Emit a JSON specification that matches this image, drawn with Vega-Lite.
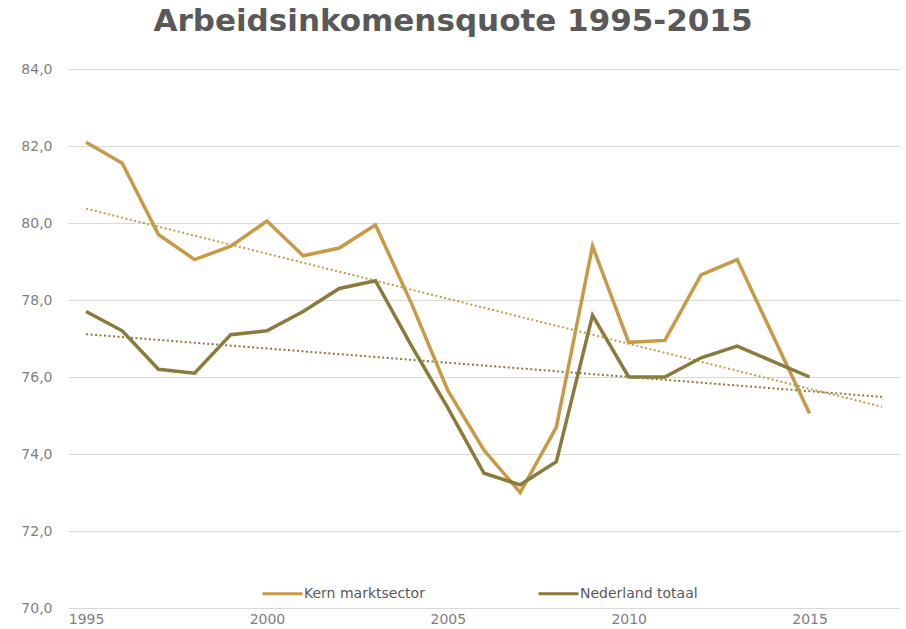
{
  "$schema": "https://vega.github.io/schema/vega-lite/v6.json",
  "width": 832,
  "height": 539,
  "autosize": {"type": "none"},
  "padding": {"left": 68, "top": 69, "right": 6, "bottom": 21},
  "title": {
    "text": "Arbeidsinkomensquote 1995-2015",
    "font": "DejaVu Sans",
    "fontSize": 31,
    "fontWeight": "bold",
    "color": "#595959",
    "anchor": "middle",
    "dx": -31,
    "offset": 24
  },
  "data": {
    "values": [
      {"jaar": 1995, "serie": "Kern marktsector", "waarde": 82.1},
      {"jaar": 1996, "serie": "Kern marktsector", "waarde": 81.55},
      {"jaar": 1997, "serie": "Kern marktsector", "waarde": 79.7},
      {"jaar": 1998, "serie": "Kern marktsector", "waarde": 79.05},
      {"jaar": 1999, "serie": "Kern marktsector", "waarde": 79.4},
      {"jaar": 2000, "serie": "Kern marktsector", "waarde": 80.05},
      {"jaar": 2001, "serie": "Kern marktsector", "waarde": 79.15},
      {"jaar": 2002, "serie": "Kern marktsector", "waarde": 79.35},
      {"jaar": 2003, "serie": "Kern marktsector", "waarde": 79.95},
      {"jaar": 2004, "serie": "Kern marktsector", "waarde": 77.9},
      {"jaar": 2005, "serie": "Kern marktsector", "waarde": 75.65},
      {"jaar": 2006, "serie": "Kern marktsector", "waarde": 74.1},
      {"jaar": 2007, "serie": "Kern marktsector", "waarde": 73.0},
      {"jaar": 2008, "serie": "Kern marktsector", "waarde": 74.7},
      {"jaar": 2009, "serie": "Kern marktsector", "waarde": 79.4},
      {"jaar": 2010, "serie": "Kern marktsector", "waarde": 76.9},
      {"jaar": 2011, "serie": "Kern marktsector", "waarde": 76.95},
      {"jaar": 2012, "serie": "Kern marktsector", "waarde": 78.65},
      {"jaar": 2013, "serie": "Kern marktsector", "waarde": 79.05},
      {"jaar": 2014, "serie": "Kern marktsector", "waarde": 77.05},
      {"jaar": 2015, "serie": "Kern marktsector", "waarde": 75.05},
      {"jaar": 1995, "serie": "Nederland totaal", "waarde": 77.7},
      {"jaar": 1996, "serie": "Nederland totaal", "waarde": 77.2},
      {"jaar": 1997, "serie": "Nederland totaal", "waarde": 76.2},
      {"jaar": 1998, "serie": "Nederland totaal", "waarde": 76.1},
      {"jaar": 1999, "serie": "Nederland totaal", "waarde": 77.1},
      {"jaar": 2000, "serie": "Nederland totaal", "waarde": 77.2},
      {"jaar": 2001, "serie": "Nederland totaal", "waarde": 77.7},
      {"jaar": 2002, "serie": "Nederland totaal", "waarde": 78.3},
      {"jaar": 2003, "serie": "Nederland totaal", "waarde": 78.5},
      {"jaar": 2004, "serie": "Nederland totaal", "waarde": 76.8},
      {"jaar": 2005, "serie": "Nederland totaal", "waarde": 75.2},
      {"jaar": 2006, "serie": "Nederland totaal", "waarde": 73.5},
      {"jaar": 2007, "serie": "Nederland totaal", "waarde": 73.2},
      {"jaar": 2008, "serie": "Nederland totaal", "waarde": 73.8},
      {"jaar": 2009, "serie": "Nederland totaal", "waarde": 77.6},
      {"jaar": 2010, "serie": "Nederland totaal", "waarde": 76.0},
      {"jaar": 2011, "serie": "Nederland totaal", "waarde": 76.0},
      {"jaar": 2012, "serie": "Nederland totaal", "waarde": 76.5},
      {"jaar": 2013, "serie": "Nederland totaal", "waarde": 76.8},
      {"jaar": 2014, "serie": "Nederland totaal", "waarde": 76.4},
      {"jaar": 2015, "serie": "Nederland totaal", "waarde": 76.0}
    ]
  },
  "encoding": {
    "x": {
      "field": "jaar",
      "type": "quantitative",
      "scale": {"domain": [1994.5, 2017.5], "nice": false, "zero": false},
      "axis": {
        "title": null,
        "values": [1995, 2000, 2005, 2010, 2015],
        "format": "d",
        "grid": false,
        "ticks": false,
        "domain": false,
        "labelPadding": 4,
        "labelFont": "DejaVu Sans",
        "labelFontSize": 14,
        "labelColor": "#7f7f7f"
      }
    },
    "y": {
      "field": "waarde",
      "type": "quantitative",
      "scale": {"domain": [70, 84], "nice": false, "zero": false},
      "axis": {
        "title": null,
        "values": [70, 72, 74, 76, 78, 80, 82, 84],
        "labelExpr": "replace(format(datum.value, '.1f'), '.', ',')",
        "grid": true,
        "gridColor": "#d9d9d9",
        "gridWidth": 1,
        "ticks": false,
        "domain": false,
        "labelPadding": 16,
        "labelFont": "DejaVu Sans",
        "labelFontSize": 14,
        "labelColor": "#7f7f7f"
      }
    },
    "color": {
      "field": "serie",
      "type": "nominal",
      "scale": {
        "domain": ["Kern marktsector", "Nederland totaal"],
        "range": ["#C89A47", "#8C7A3C"]
      },
      "legend": {
        "title": null,
        "orient": "none",
        "direction": "horizontal",
        "legendX": 193,
        "legendY": 503,
        "symbolType": "stroke",
        "symbolSize": 1600,
        "symbolStrokeWidth": 3,
        "labelFont": "DejaVu Sans",
        "labelFontSize": 14,
        "labelColor": "#595959",
        "labelOffset": 0,
        "columnPadding": 107
      }
    }
  },
  "layer": [
    {
      "transform": [
        {"regression": "waarde", "on": "jaar", "groupby": ["serie"], "extent": [1995, 2017]}
      ],
      "mark": {"type": "line", "strokeWidth": 2, "strokeDash": [2, 2.5]}
    },
    {
      "mark": {"type": "line", "strokeWidth": 3.5}
    }
  ],
  "config": {
    "view": {"stroke": null}
  }
}
